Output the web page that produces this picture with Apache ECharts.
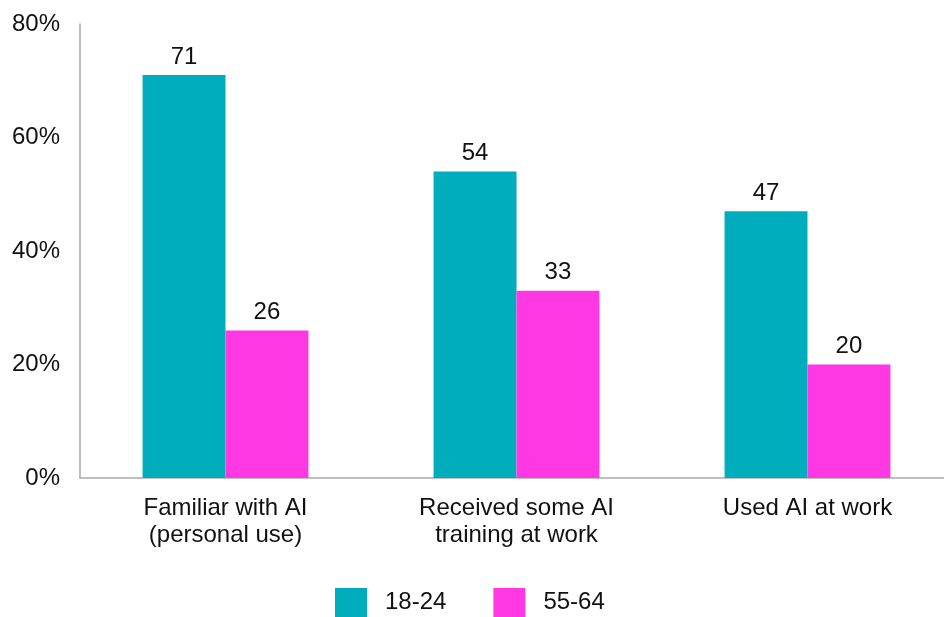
<!DOCTYPE html>
<html><head><meta charset="utf-8">
<script src="https://cdn.jsdelivr.net/npm/echarts@6/dist/echarts.min.js"></script>
<style>html,body{margin:0;padding:0;background:#fff}#c{width:944px;height:617px}</style>
</head><body><div id="c"></div>
<script>
const categories = ['Familiar with AI\n(personal use)', 'Received some AI\ntraining at work', 'Used AI at work'];
const seriesNames = ['18-24', '55-64'];
const values1824 = [71, 54, 47];
const values5564 = [26, 33, 20];
const yTicks = [0, 20, 40, 60, 80];

const font = 'Liberation Sans, Arial, Helvetica, sans-serif';
const txt = '#111';
const chart = echarts.init(document.getElementById('c'));
chart.setOption({
  animation: false,
  grid: { left: 80, right: -9, top: 24, bottom: 139, containLabel: false, outerBoundsMode: 'none' },
  legend: {
    bottom: -5, left: 330,
    itemWidth: 32, itemHeight: 29, itemGap: 47,
    icon: 'rect',
    textStyle: { fontFamily: font, fontSize: 24, color: txt, padding: [0, 0, 0, 13] },
    data: seriesNames
  },
  xAxis: {
    type: 'category', data: categories,
    axisLine: { lineStyle: { color: '#aaa', width: 1.5 } },
    axisTick: { show: false },
    axisLabel: { fontFamily: font, fontSize: 24, color: txt, lineHeight: 27, margin: 17 }
  },
  yAxis: {
    type: 'value', min: yTicks[0], max: yTicks[yTicks.length - 1], interval: 20,
    axisLine: { show: true, lineStyle: { color: '#aaa', width: 1.5 } },
    axisTick: { show: false },
    splitLine: { show: false },
    axisLabel: { fontFamily: font, fontSize: 24, color: txt, margin: 20, formatter: '{value}%' }
  },
  series: [
    { name: seriesNames[0], type: 'bar', data: values1824, barGap: 0, barCategoryGap: '43%',
      itemStyle: { color: '#00adbd' },
      label: { show: true, position: 'top', distance: 6, fontFamily: font, fontSize: 24, color: txt } },
    { name: seriesNames[1], type: 'bar', data: values5564, barGap: 0, barCategoryGap: '43%',
      itemStyle: { color: '#ff38e4' },
      label: { show: true, position: 'top', distance: 6, fontFamily: font, fontSize: 24, color: txt } }
  ]
});
</script></body></html>
